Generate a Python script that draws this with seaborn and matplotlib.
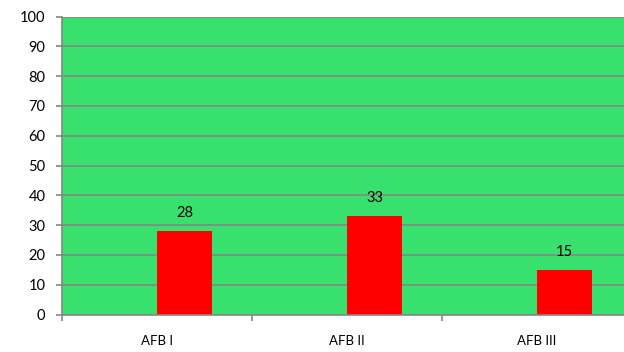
import matplotlib
matplotlib.use("Agg")
import matplotlib.pyplot as plt
import seaborn as sns
import pandas as pd
import numpy as np

categories = ["AFB I", "AFB II", "AFB III"]
values = [28, 33, 15]
series_names = ["empty", "value"]

df = pd.DataFrame({
    "cat": categories * 2,
    "series": [series_names[0]] * 3 + [series_names[1]] * 3,
    "val": [np.nan] * 3 + values,
})

sns.set_style("white")
plt.rcParams["font.family"] = ["Lato", "DejaVu Sans"]

fig = plt.figure(figsize=(6.24, 3.52), dpi=100)
W, H = 624, 352
ax = fig.add_axes([62 / W, (H - 314.5) / H, 570 / W, 298 / H])
ax.set_facecolor("#38E06E")

sns.barplot(data=df, x="cat", y="val", hue="series", order=categories,
            hue_order=series_names, palette=["#FF0000", "#FF0000"],
            width=0.58, gap=0, saturation=1, ax=ax, legend=False,
            linewidth=0, edgecolor="none", errorbar=None)

ax.set_xlim(-0.5, 2.5)
ax.set_ylim(0, 100)
ax.set_yticks(range(0, 101, 10))
ax.yaxis.grid(True, color="#868686", linewidth=1.2)
ax.set_axisbelow(True)
ax.set_xlabel("")
ax.set_ylabel("")

for side in ["top", "right"]:
    ax.spines[side].set_visible(False)
for side in ["left", "bottom"]:
    ax.spines[side].set_color("#868686")
    ax.spines[side].set_linewidth(1.2)

ax.tick_params(axis="y", which="major", left=True, length=4, width=1.2,
               color="#868686", labelsize=10.5, pad=8, labelcolor="black")
ax.tick_params(axis="x", which="major", bottom=False, length=0,
               labelsize=9.5, pad=15, labelcolor="black")
ax.set_xticks([-0.5, 0.5, 1.5, 2.5], minor=True)
ax.tick_params(axis="x", which="minor", bottom=True, length=4, width=1.2,
               color="#868686")

for cont in ax.containers:
    ax.bar_label(cont, fmt="%g", padding=8, fontsize=10.5, color="black")

fig.savefig("out.png", dpi=100)
